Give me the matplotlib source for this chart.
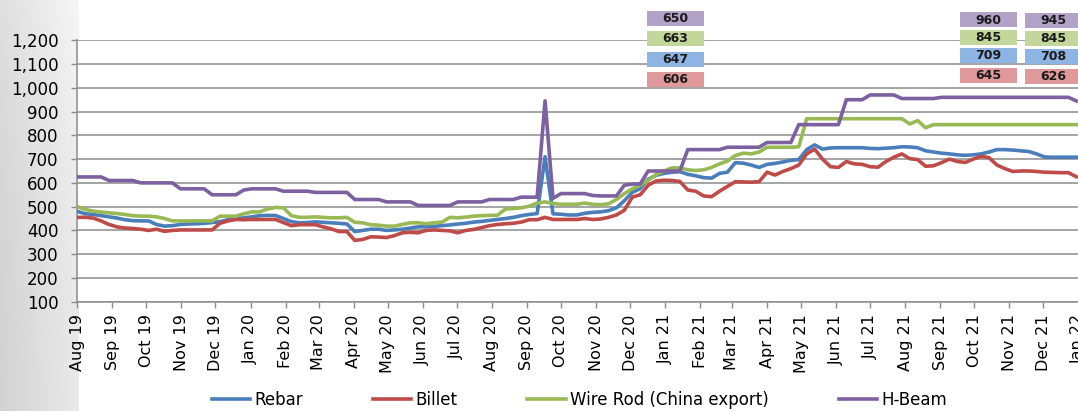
import numpy as np
import pandas as pd
import matplotlib
matplotlib.use("Agg")
import matplotlib.pyplot as plt
import matplotlib.dates as mdates
from matplotlib.patches import Rectangle
from matplotlib.ticker import FuncFormatter, MultipleLocator

# ---------------- data (weekly, USD/t) ----------------
dates = pd.date_range("2019-08-01", periods=127, freq="7D")

rebar = [480, 470, 467, 462, 457, 452, 445, 441, 440, 440, 425, 418, 420, 425, 427, 428, 430, 433, 437, 445, 450, 453,
         457, 462, 463, 463, 450, 437, 432, 433, 436, 434, 432, 430, 427, 395, 400, 405, 405, 400, 402, 405, 410,
         415, 415, 417, 420, 423, 427, 430, 435, 438, 442, 446, 450, 455, 462, 467, 471, 710, 470, 468, 465, 465, 472,
         476, 478, 483, 495, 525, 560, 576, 615, 632, 640, 645, 647, 636, 630, 622, 620, 640, 645, 685, 683, 675, 665,
         678, 682, 688, 695, 698, 740, 760, 742, 747, 748, 748, 748, 748, 745, 744, 746, 748, 752, 751, 748, 735,
         730, 725, 722, 718, 716, 718, 722, 730, 740, 740, 738, 735, 732, 722, 709, 708, 708, 708, 708]

billet = [455, 455, 452, 440, 425, 415, 410, 408, 405, 400, 405, 396, 400, 402, 402, 402, 402, 402, 430, 440, 446, 445,
          446, 446, 446, 446, 433, 420, 424, 424, 424, 415, 407, 395, 395, 358, 362, 373, 372, 370, 378, 390, 392,
          390, 400, 402, 400, 398, 390, 400, 404, 412, 420, 425, 428, 430, 435, 445, 445, 455, 446, 446, 446, 446, 450,
          446, 448, 455, 465, 485, 540, 550, 590, 608, 611, 610, 606, 570, 565, 545, 542, 565, 585, 605, 604, 603, 605,
          645, 633, 648, 660, 675, 722, 742, 700, 668, 665, 690, 680, 678, 668, 666, 690, 708, 722, 702, 698, 670,
          672, 685, 700, 690, 686, 700, 712, 706, 675, 660, 648, 650, 650, 648, 645, 644, 643, 643, 626]

wire_rod = [500, 488, 481, 477, 474, 471, 467, 462, 460, 460, 457, 450, 440, 440, 440, 440, 440, 440, 460, 460, 460, 470,
            478, 478, 490, 497, 495, 462, 455, 455, 457, 455, 453, 453, 455, 434, 432, 424, 422, 418, 418, 425, 432,
            432, 428, 432, 435, 455, 453, 456, 460, 462, 463, 464, 490, 492, 495, 502, 515, 520, 513, 510, 510, 510, 515,
            510, 508, 512, 530, 555, 575, 590, 610, 635, 650, 663, 663, 655, 652, 655, 665, 680, 692, 715, 725, 722, 730,
            750, 750, 750, 750, 752, 870, 870, 870, 870, 870, 870, 870, 870, 870, 870, 870, 870, 870, 848, 862, 832,
            845, 845, 845, 845, 845, 845, 845, 845, 845, 845, 845, 845, 845, 845, 845, 845, 845, 845, 845]

h_beam = [625, 625, 625, 625, 610, 610, 610, 610, 600, 600, 600, 600, 600, 575, 575, 575, 575, 550, 550, 550, 550, 570,
          575, 575, 575, 575, 565, 565, 565, 565, 560, 560, 560, 560, 560, 530, 530, 530, 530, 520, 520, 520, 520,
          505, 505, 505, 505, 505, 520, 520, 520, 520, 530, 530, 530, 530, 540, 540, 540, 945, 535, 555, 555, 555, 555,
          547, 545, 545, 545, 590, 595, 595, 650, 650, 650, 650, 650, 740, 740, 740, 740, 740, 750, 750, 750, 750, 750,
          770, 770, 770, 770, 845, 845, 845, 845, 845, 845, 950, 950, 950, 970, 970, 970, 970, 955, 955, 955, 955,
          955, 960, 960, 960, 960, 960, 960, 960, 960, 960, 960, 960, 960, 960, 960, 960, 960, 960, 945]

for s in (rebar, billet, wire_rod, h_beam):
    assert len(s) == len(dates), len(s)

series_names = ["Rebar", "Billet", "Wire Rod (China export)", "H-Beam"]
series_vals = [rebar, billet, wire_rod, h_beam]
line_colors = ["#4A7EBB", "#BE4B48", "#98B954", "#7D60A0"]
box_colors = ["#8EB4E3", "#E0999A", "#C3D69B", "#B3A2C7"]

# indices of the weeks quoted in the labelled boxes
box_weeks = [76, 122, 126]

# ---------------- figure ----------------
W, H = 1078, 411
fig = plt.figure(figsize=(W / 100, H / 100), dpi=100, facecolor="white")

# grey gradient strip at the left
bg = fig.add_axes([0, 0, 79 / W, 1], zorder=-5)
gx = np.linspace(0, 1, 60)
gy = np.linspace(0, 1, 200)
GX, GY = np.meshgrid(gx, gy)
G = 0.825 + 0.09 * GX + 0.05 * (1 - GY) ** 2
bg.imshow(np.dstack([G, G, G]), aspect="auto", extent=[0, 1, 0, 1], origin="upper")
bg.set_axis_off()

px_per_day = 1.1326
x0 = pd.Timestamp("2019-08-01")
x1 = pd.Timestamp("2022-01-31")
ax_left = 77.3 / W
ax_width = (x1 - x0).days * px_per_day / W
ax_bottom = 1 - 301.7 / H
ax_top = 1 - 40.3 / H
ax = fig.add_axes([ax_left, ax_bottom, ax_width, ax_top - ax_bottom])
ax.set_facecolor("white")

for name, vals, c in zip(series_names, series_vals, line_colors):
    ax.plot(dates, vals, color=c, lw=2.6, label=name, solid_joinstyle="round", zorder=3)

ax.set_ylim(100, 1200)
ax.yaxis.set_major_locator(MultipleLocator(100))
ax.yaxis.set_major_formatter(FuncFormatter(lambda v, p: f"{v:,.0f}"))
ax.set_xlim(x0, x1)
ax.xaxis.set_major_locator(mdates.MonthLocator())
ax.xaxis.set_major_formatter(mdates.DateFormatter("%b %y"))

ax.grid(axis="y", color="#8C8C8C", lw=1.1, zorder=0)
for sp in ["top", "right"]:
    ax.spines[sp].set_visible(False)
for sp in ["left", "bottom"]:
    ax.spines[sp].set_color("#8C8C8C")
    ax.spines[sp].set_linewidth(1.1)

ax.tick_params(axis="y", direction="out", length=4.2, width=1.0, color="#8C8C8C",
               pad=9.5, labelsize=12, labelcolor="black")
ax.tick_params(axis="x", direction="out", length=4.0, width=1.0, color="#8C8C8C",
               pad=5, labelsize=11.5, labelcolor="black")
for lab in ax.get_xticklabels():
    lab.set_rotation(90)
    lab.set_ha("center")

# value boxes (figure pixel coordinates)
box_x = [647, 960, 1025]
box_yc = [[79.8, 59.2, 38.3, 18.3],
          [75.2, 55.8, 37.2, 20.0],
          [76.5, 56.7, 38.2, 20.3]]
bw, bh = 57, 15
order = [1, 0, 2, 3]  # billet, rebar, wire rod, h-beam from bottom to top
for bx, ycs, wk in zip(box_x, box_yc, box_weeks):
    for yc, si in zip(ycs, order):
        y0 = H - yc - bh / 2
        fig.patches.append(Rectangle((bx / W, y0 / H), bw / W, bh / H,
                                     transform=fig.transFigure, facecolor=box_colors[si],
                                     edgecolor="none", zorder=5))
        fig.text((bx + bw / 2) / W, (H - yc) / H, f"{series_vals[si][wk]:,}",
                 ha="center", va="center", fontsize=9, fontweight="bold",
                 color="#1A1A1A", zorder=6)

fig.legend(loc="center", bbox_to_anchor=(0.5374, 0.027), ncol=4, frameon=False,
           fontsize=12, handlelength=2.3, handletextpad=0.25, columnspacing=4.2,
           borderpad=0, borderaxespad=0)

fig.savefig("out.png", dpi=100, facecolor="white")
